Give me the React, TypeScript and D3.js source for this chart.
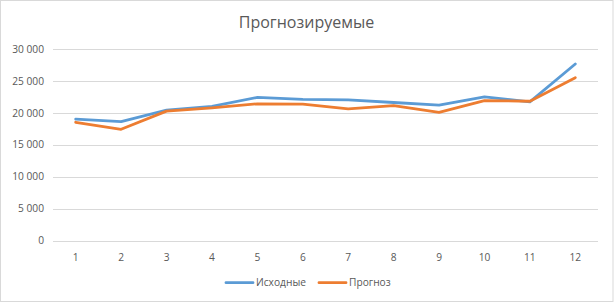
import React from "react";
import * as d3 from "d3";

const categories = ["1", "2", "3", "4", "5", "6", "7", "8", "9", "10", "11", "12"];
const actual = [19050, 18650, 20450, 21050, 22450, 22150, 22050, 21650, 21250, 22550, 21750, 27700];
const forecast = [18550, 17450, 20300, 20800, 21450, 21400, 20650, 21150, 20100, 21950, 21850, 25550];
const yTicks = [0, 5000, 10000, 15000, 20000, 25000, 30000];
const seriesNames = ["Исходные", "Прогноз"];
const title = "Прогнозируемые";

const W = 615;
const H = 304;
const font = "'Open Sans', 'Noto Sans', sans-serif";
const colors = ["#5b9bd5", "#ed7d31"];

const fmt = (v: number) => d3.format(",")(v).replace(/,/g, "\u00a0");

export default function App() {
  const x = d3.scaleBand<string>().domain(categories).range([53, 598]);
  const y = d3.scaleLinear().domain([0, 30000]).range([240.5, 49.3]);
  const cx = (c: string) => (x(c) ?? 0) + x.bandwidth() / 2;
  const line = d3
    .line<number>()
    .x((_, i) => cx(categories[i]))
    .y((d) => y(d));
  const series = [actual, forecast];
  const legendX = [226, 319];
  return (
    <div style={{ position: "fixed", left: 0, top: 0 }}>
      <svg width={W} height={H} style={{ display: "block" }}>
        <rect x={0} y={0} width={W} height={H} fill="#fff" />
        <rect x={0.5} y={0.5} width={612.5} height={301} fill="none" stroke="#d9d9d9" strokeWidth={1} />
        <text x={306.5} y={28} textAnchor="middle" fontFamily={font} fontSize={16} fill="#595959">
          {title}
        </text>
        {yTicks.map((t) => (
          <g key={t}>
            <line x1={53} x2={598} y1={Math.round(y(t)) + 0.5} y2={Math.round(y(t)) + 0.5} stroke="#d9d9d9" strokeWidth={1} />
            <text x={44} y={y(t)} dy="0.35em" textAnchor="end" fontFamily={font} fontSize={10.2} fill="#595959">
              {fmt(t)}
            </text>
          </g>
        ))}
        {categories.map((c) => (
          <text key={c} x={cx(c)} y={257} dy="0.35em" textAnchor="middle" fontFamily={font} fontSize={10.2} fill="#595959">
            {c}
          </text>
        ))}
        {series.map((s, i) => (
          <path key={i} d={line(s) ?? ""} fill="none" stroke={colors[i]} strokeWidth={2.8} strokeLinejoin="round" strokeLinecap="round" />
        ))}
        {seriesNames.map((n, i) => (
          <g key={n}>
            <line x1={legendX[i]} x2={legendX[i] + 27} y1={282.7} y2={282.7} stroke={colors[i]} strokeWidth={2.8} strokeLinecap="round" />
            <text x={legendX[i] + 30} y={282.7} dy="0.35em" fontFamily={font} fontSize={10.2} fill="#595959">
              {n}
            </text>
          </g>
        ))}
      </svg>
    </div>
  );
}
